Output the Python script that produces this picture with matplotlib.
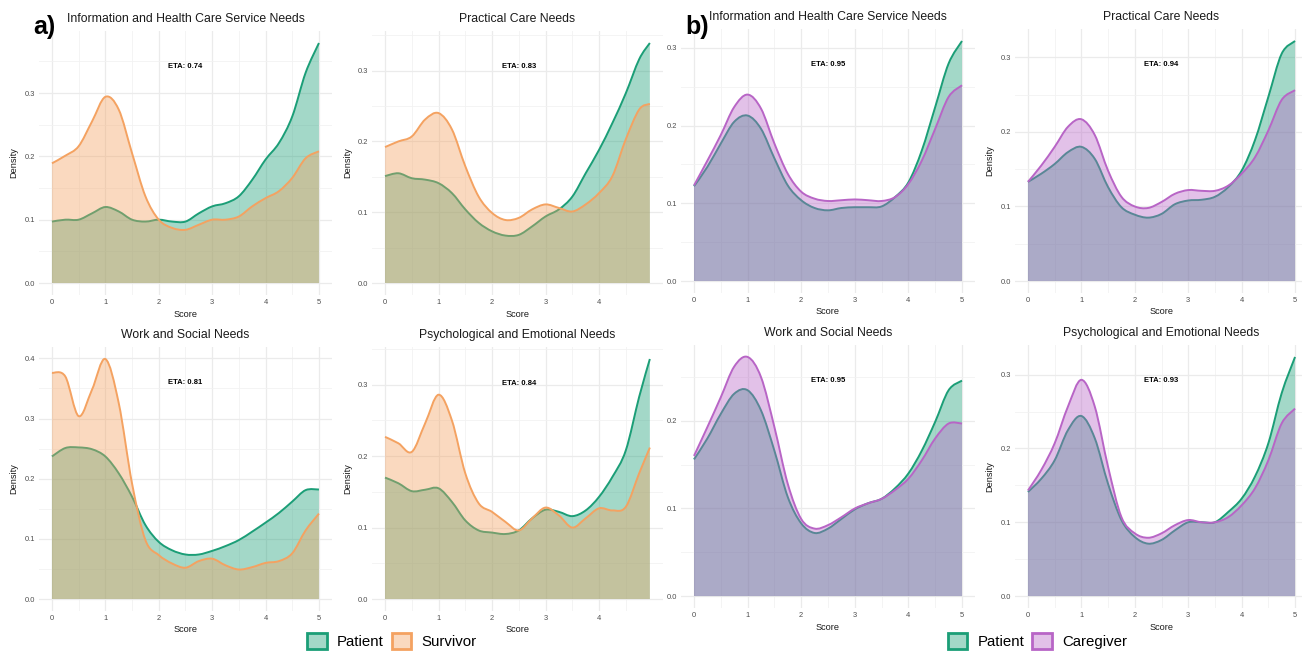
import numpy as np
import matplotlib
matplotlib.use('Agg')
import matplotlib.pyplot as plt
from matplotlib.path import Path
from matplotlib.patches import PathPatch, Patch
from matplotlib.colors import to_rgba
from matplotlib.ticker import FixedLocator, FormatStrFormatter

plt.rcParams['font.family'] = ['Liberation Sans', 'DejaVu Sans']

# ---------------- data ----------------
SCORE_5 = [0, 0.25, 0.5, 0.75, 1.0, 1.25, 1.5, 1.75, 2.0, 2.25, 2.5, 2.75,
           3.0, 3.25, 3.5, 3.75, 4.0, 4.25, 4.5, 4.75, 5.0]
SCORE_495 = [0, 0.25, 0.5, 0.75, 1.0, 1.25, 1.5, 1.75, 2.0, 2.25, 2.5, 2.75,
             3.0, 3.25, 3.5, 3.75, 4.0, 4.25, 4.5, 4.75, 4.95]

X_TICKS = [0, 1, 2, 3, 4, 5]
Y_TICKS = [0.0, 0.1, 0.2, 0.3, 0.4]

TITLES = ["Information and Health Care Service Needs", "Practical Care Needs",
          "Work and Social Needs", "Psychological and Emotional Needs"]
ETA_A = ["0.74", "0.83", "0.81", "0.84"]
ETA_B = ["0.95", "0.94", "0.95", "0.93"]

# a) Patient vs Survivor
A_PAT_INFO = [0.097, 0.100, 0.100, 0.110, 0.120, 0.113, 0.100, 0.097, 0.100, 0.097, 0.097,
              0.110, 0.121, 0.126, 0.137, 0.163, 0.195, 0.221, 0.263, 0.332, 0.379]
A_SUR_INFO = [0.189, 0.201, 0.216, 0.255, 0.294, 0.274, 0.205, 0.137, 0.100, 0.087, 0.084,
              0.092, 0.100, 0.100, 0.105, 0.121, 0.134, 0.145, 0.166, 0.197, 0.208]
A_PAT_PRAC = [0.151, 0.155, 0.148, 0.146, 0.141, 0.127, 0.104, 0.085, 0.073, 0.067, 0.068,
              0.080, 0.094, 0.104, 0.122, 0.155, 0.188, 0.226, 0.268, 0.316, 0.339]
A_SUR_PRAC = [0.192, 0.200, 0.207, 0.231, 0.240, 0.217, 0.165, 0.122, 0.099, 0.089, 0.092,
              0.104, 0.111, 0.106, 0.101, 0.111, 0.127, 0.151, 0.203, 0.245, 0.253]
A_PAT_WORK = [0.237, 0.251, 0.252, 0.249, 0.237, 0.209, 0.170, 0.123, 0.095, 0.081, 0.074,
              0.074, 0.080, 0.088, 0.098, 0.112, 0.127, 0.143, 0.162, 0.181, 0.182]
A_SUR_WORK = [0.376, 0.370, 0.304, 0.348, 0.399, 0.326, 0.192, 0.098, 0.073, 0.059, 0.052,
              0.063, 0.067, 0.056, 0.049, 0.053, 0.060, 0.063, 0.076, 0.114, 0.142]
A_PAT_PSY = [0.170, 0.162, 0.151, 0.153, 0.155, 0.136, 0.110, 0.096, 0.093, 0.091, 0.096,
             0.113, 0.125, 0.122, 0.116, 0.124, 0.143, 0.171, 0.208, 0.283, 0.336]
A_SUR_PSY = [0.227, 0.218, 0.206, 0.246, 0.286, 0.250, 0.176, 0.134, 0.122, 0.108, 0.096,
             0.113, 0.128, 0.117, 0.100, 0.113, 0.127, 0.124, 0.129, 0.176, 0.212]

# b) Patient vs Caregiver
B_PAT_INFO = [0.122, 0.147, 0.177, 0.205, 0.213, 0.196, 0.158, 0.123, 0.104, 0.094, 0.091,
              0.094, 0.095, 0.095, 0.096, 0.108, 0.127, 0.168, 0.224, 0.280, 0.309]
B_CAR_INFO = [0.123, 0.155, 0.188, 0.224, 0.240, 0.222, 0.177, 0.138, 0.115, 0.106, 0.103,
              0.104, 0.105, 0.104, 0.103, 0.108, 0.125, 0.155, 0.196, 0.237, 0.252]
B_PAT_PRAC = [0.133, 0.144, 0.157, 0.173, 0.180, 0.164, 0.126, 0.099, 0.089, 0.085, 0.090,
              0.103, 0.108, 0.109, 0.113, 0.126, 0.148, 0.189, 0.247, 0.305, 0.322]
B_CAR_PRAC = [0.133, 0.155, 0.180, 0.207, 0.217, 0.196, 0.148, 0.113, 0.100, 0.098, 0.106,
              0.117, 0.122, 0.121, 0.121, 0.128, 0.144, 0.166, 0.202, 0.243, 0.256]
B_PAT_WORK = [0.156, 0.180, 0.208, 0.231, 0.235, 0.212, 0.166, 0.113, 0.083, 0.072, 0.077,
              0.088, 0.099, 0.106, 0.111, 0.123, 0.140, 0.166, 0.199, 0.235, 0.246]
B_CAR_WORK = [0.160, 0.193, 0.227, 0.262, 0.273, 0.250, 0.193, 0.128, 0.088, 0.077, 0.081,
              0.090, 0.100, 0.106, 0.111, 0.121, 0.134, 0.155, 0.180, 0.197, 0.197]
B_PAT_PSY = [0.141, 0.159, 0.184, 0.225, 0.244, 0.214, 0.152, 0.103, 0.080, 0.071, 0.076,
             0.089, 0.100, 0.100, 0.100, 0.114, 0.132, 0.162, 0.207, 0.275, 0.324]
B_CAR_PSY = [0.143, 0.171, 0.207, 0.257, 0.293, 0.257, 0.175, 0.107, 0.085, 0.079, 0.085,
             0.096, 0.103, 0.100, 0.100, 0.107, 0.123, 0.146, 0.184, 0.234, 0.254]

C_PATIENT = "#1B9E77"
C_SURVIVOR = "#F4A261"
C_CAREGIVER = "#B865C6"
ALPHA = 0.4

W, H = 1302, 651
fig = plt.figure(figsize=(W / 100, H / 100), dpi=100)


def add_panel(box):
    l, t, r, b = box
    return fig.add_axes([l / W, 1 - b / H, (r - l) / W, (b - t) / H])


def bezier(x, y):
    pts = np.column_stack([np.asarray(x, float), np.asarray(y, float)])
    n = len(pts)
    verts = [pts[0]]
    codes = [Path.MOVETO]
    for i in range(n - 1):
        p0 = pts[i - 1] if i > 0 else pts[i]
        p1, p2 = pts[i], pts[i + 1]
        p3 = pts[i + 2] if i + 2 < n else pts[i + 1]
        verts += [p1 + (p2 - p0) / 6, p2 - (p3 - p1) / 6, p2]
        codes += [Path.CURVE4] * 3
    return verts, codes


def density(ax, x, y, color):
    verts, codes = bezier(x, y)
    fv = verts + [(x[-1], 0), (x[0], 0), (x[0], y[0])]
    fc = codes + [Path.LINETO, Path.LINETO, Path.CLOSEPOLY]
    ax.add_patch(PathPatch(Path(fv, fc), facecolor=to_rgba(color, ALPHA),
                           edgecolor='none', zorder=2))
    ax.add_patch(PathPatch(Path(verts, codes), facecolor='none',
                           edgecolor=color, lw=1.4, zorder=2,
                           capstyle='butt', joinstyle='round'))


def panel(box, x, s1, s2, c1, c2, title, eta):
    ax = add_panel(box)
    l, t, r, b = box
    w, h = r - l, b - t
    xmax = max(x)
    ymax = max(max(s1), max(s2))
    ax.set_xlim(-0.05 * xmax, 1.05 * xmax)
    ax.set_ylim(-0.05 * ymax, 1.05 * ymax)
    density(ax, x, s1, c1)
    density(ax, x, s2, c2)
    for sp in ax.spines.values():
        sp.set_visible(False)
    ax.set_facecolor('white')
    xmaj = [v for v in X_TICKS if v <= xmax + 1e-9]
    xmin = [v + 0.5 for v in X_TICKS if v + 0.5 <= xmax + 1e-9]
    ytop = 1.05 * ymax
    ymaj = [v for v in Y_TICKS if v <= ytop]
    ymin = [v + 0.05 for v in Y_TICKS if v + 0.05 <= ytop]
    ax.xaxis.set_major_locator(FixedLocator(xmaj))
    ax.xaxis.set_minor_locator(FixedLocator(xmin))
    ax.yaxis.set_major_locator(FixedLocator(ymaj))
    ax.yaxis.set_minor_locator(FixedLocator(ymin))
    ax.yaxis.set_major_formatter(FormatStrFormatter('%.1f'))
    ax.xaxis.set_major_formatter(FormatStrFormatter('%d'))
    ax.grid(which='major', color='#EBEBEB', lw=0.9, zorder=0)
    ax.grid(which='minor', color='#F2F2F2', lw=0.6, zorder=0)
    ax.set_axisbelow(True)
    ax.tick_params(which='both', length=0, labelsize=5.4, colors='#4D4D4D', pad=2.6)
    ax.set_xlabel('Score', fontsize=6.6, color='#1A1A1A', va='center')
    ax.set_ylabel('Density', fontsize=6.6, color='#1A1A1A', va='center', ha='center')
    ax.xaxis.set_label_coords(0.5, -19 / h)
    ax.yaxis.set_label_coords(-24.5 / w, 0.5)
    ax.text(0.5, 1 + 12 / h, title, transform=ax.transAxes, ha='center',
            va='center', fontsize=8.8, color='#1A1A1A')
    ax.text(2.5, 0.9 * ymax, "ETA: " + eta, ha='center', va='center',
            fontsize=5.5, fontweight='bold', color='black', zorder=3)
    return ax


BOX_A = [(38.6, 31, 332.3, 295), (371.8, 31, 663.1, 295),
         (38.6, 347, 332.3, 611), (371.8, 347, 663.1, 611)]
BOX_B = [(680.6, 29, 975.4, 293), (1014.6, 29, 1308.4, 293),
         (680.6, 345, 975.4, 608), (1014.6, 345, 1308.4, 608)]

A_X = [SCORE_5, SCORE_495, SCORE_5, SCORE_495]
A_PAT = [A_PAT_INFO, A_PAT_PRAC, A_PAT_WORK, A_PAT_PSY]
A_SUR = [A_SUR_INFO, A_SUR_PRAC, A_SUR_WORK, A_SUR_PSY]
B_PAT = [B_PAT_INFO, B_PAT_PRAC, B_PAT_WORK, B_PAT_PSY]
B_CAR = [B_CAR_INFO, B_CAR_PRAC, B_CAR_WORK, B_CAR_PSY]

for i in range(4):
    panel(BOX_A[i], A_X[i], A_PAT[i], A_SUR[i], C_PATIENT, C_SURVIVOR, TITLES[i], ETA_A[i])
    panel(BOX_B[i], SCORE_5, B_PAT[i], B_CAR[i], C_PATIENT, C_CAREGIVER, TITLES[i], ETA_B[i])

fig.text(33 / W, 1 - 27 / H, "a)", fontsize=18, fontweight='bold', ha='left', va='center')
fig.text(685 / W, 1 - 27 / H, "b)", fontsize=18, fontweight='bold', ha='left', va='center')


def legend(labels, colors, cx):
    handles = [Patch(facecolor=to_rgba(c, ALPHA), edgecolor=c, lw=2.0, label=lab)
               for lab, c in zip(labels, colors)]
    fig.legend(handles=handles, loc='center', bbox_to_anchor=(cx / W, 1 - 641 / H),
               ncol=2, frameon=False, fontsize=10.8, handlelength=1.3, handleheight=1.3,
               handletextpad=0.7, columnspacing=0.5, borderpad=0, borderaxespad=0)


legend(["Patient", "Survivor"], [C_PATIENT, C_SURVIVOR], 392)
legend(["Patient", "Caregiver"], [C_PATIENT, C_CAREGIVER], 1037.5)

fig.savefig("out.png", dpi=100, facecolor='white')
